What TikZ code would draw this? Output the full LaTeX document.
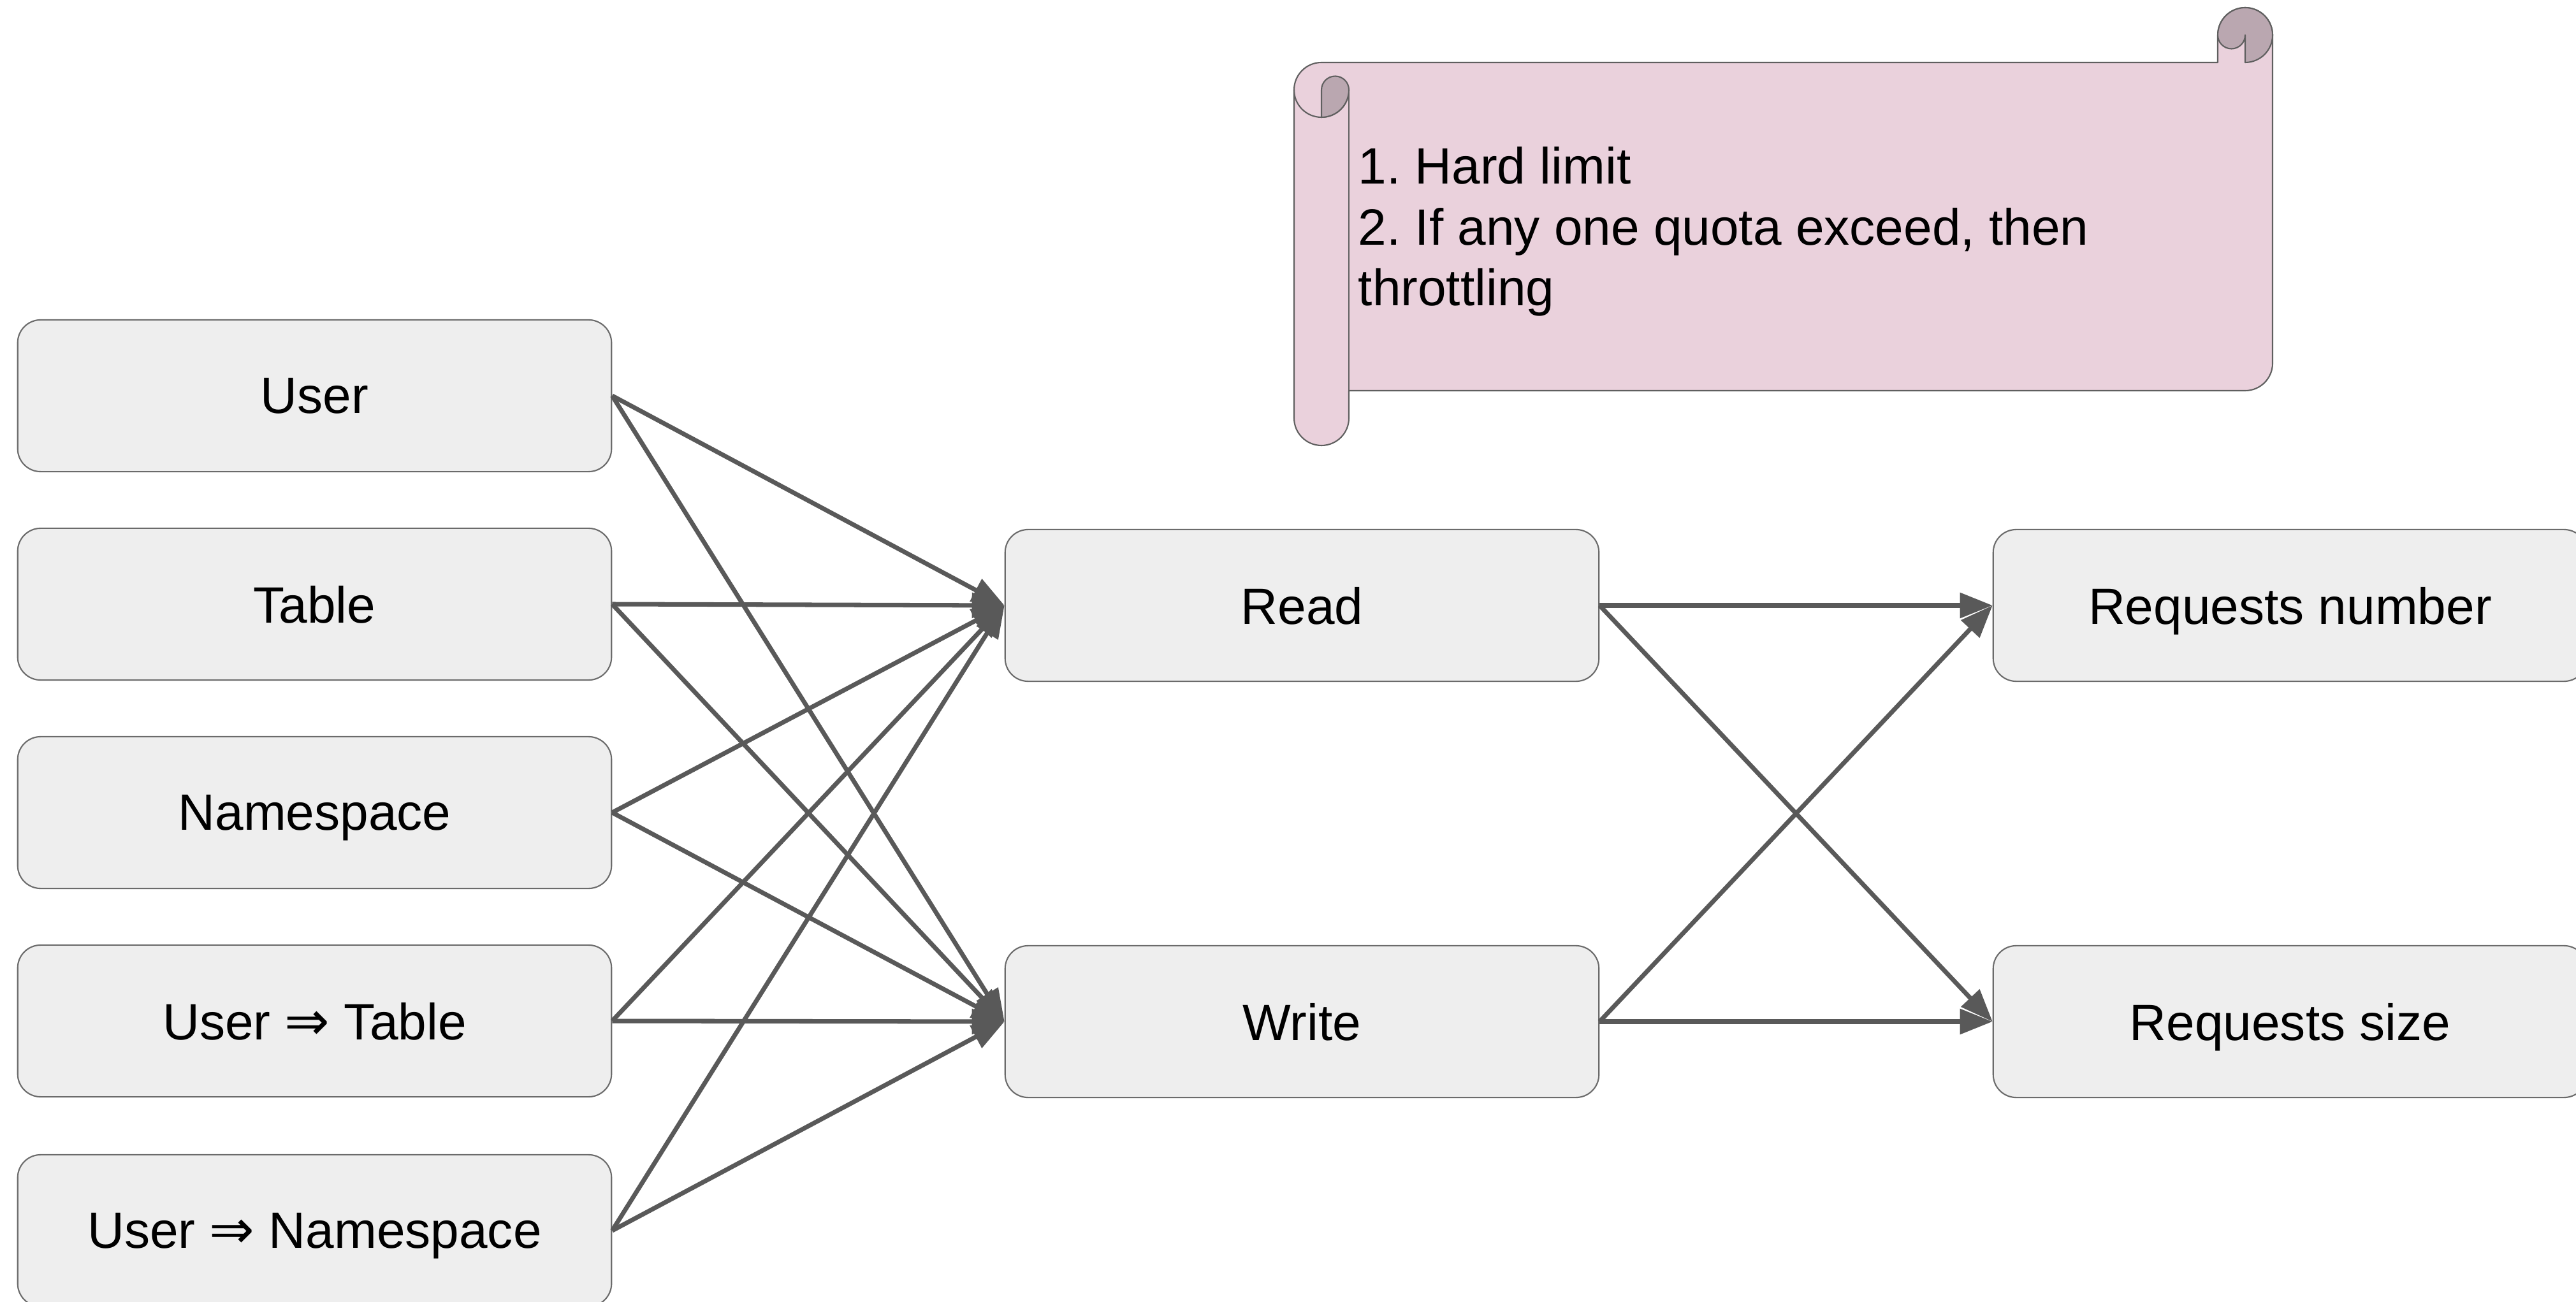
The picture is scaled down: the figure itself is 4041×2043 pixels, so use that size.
\documentclass[tikz,border=0pt]{standalone}
\usepackage{fontspec}
\setmainfont{Liberation Sans}
\newfontfamily\symfont{DejaVu Sans}
\usetikzlibrary{arrows.meta}
\frenchspacing
\definecolor{boxfill}{HTML}{EEEEEE}
\definecolor{boxline}{HTML}{6B6B6B}
\definecolor{arrowgray}{HTML}{595959}
\definecolor{scrollfill}{HTML}{EAD1DC}
\definecolor{scrolldark}{HTML}{BAA7B0}
\definecolor{scrollline}{HTML}{5F5F5F}
\newcommand{\impl}{{\symfont\fontsize{24}{26}\selectfont ⇒}}
\begin{document}
\begin{tikzpicture}[x=0.01cm,y=0.01cm,
  block/.style={draw=boxline, fill=boxfill, line width=0.6pt,
    rounded corners=0.36cm, minimum width=9.31cm, minimum height=2.38cm,
    inner sep=0pt, text depth=0pt, font=\fontsize{22.8}{28}\selectfont},
  arr/.style={draw=arrowgray, line width=2pt,
    -{Triangle[length=14.5pt,width=11pt]}},
  scrollpart/.style={draw=scrollline, line width=0.6pt, line join=round},
  note/.style={anchor=base west, inner sep=0pt, font=\fontsize{22.8}{28}\selectfont}]

% canvas
\fill[white] (0,0) rectangle (4041,-2043);
\useasboundingbox (0,0) rectangle (4041,-2043);

% --- scroll with the note ---
\path[scrollpart, fill=scrollfill]
  (2030,-141) arc[start angle=180, end angle=90, radius=43]
  -- (3479,-98) -- (3479,-55)
  arc[start angle=180, end angle=0, radius=43]
  -- (3565,-570) arc[start angle=0, end angle=-90, radius=43]
  -- (2116,-613) -- (2116,-656)
  arc[start angle=0, end angle=-180, radius=43] -- cycle;
% left roll
\draw[scrollpart] (2030,-141) arc[start angle=180, end angle=360, radius=43];
\path[scrollpart, fill=scrolldark]
  (2073,-141) arc[start angle=180, end angle=0, radius=21.5]
  arc[start angle=0, end angle=-90, radius=43] -- cycle;
\draw[scrollpart] (2116,-141) -- (2116,-613);
% right roll
\path[scrollpart, fill=scrolldark]
  (3479,-55) arc[start angle=180, end angle=-90, radius=43]
  -- (3522,-55) arc[start angle=0, end angle=-180, radius=21.5] -- cycle;

\node[note] (t1) at (2130,-289) {1. Hard limit};
\node[note] (t2) at (2130,-385) {2. If any one quota exceed, then};
\node[note] (t3) at (2130,-480) {throttling};

% --- scopes ---
\node[block] (user)  at (493.5,-621)  {User};
\node[block] (table) at (493.5,-948)  {Table};
\node[block] (ns)    at (493.5,-1275) {Namespace};
\node[block] (ut)    at (493.5,-1602) {User \impl{} Table};
\node[block] (un)    at (493.5,-1931) {User \impl{} Namespace};

% --- operations ---
\node[block] (read)  at (2042.5,-950)  {Read};
\node[block] (write) at (2042.5,-1603) {Write};

% --- quota types ---
\node[block] (rnum)  at (3592.5,-950)  {Requests number};
\node[block] (rsize) at (3592.5,-1603) {Requests size};

% --- connectors ---
\foreach \s in {user,table,ns,ut,un}{
  \draw[arr] (\s.east) -- (read.west);
  \draw[arr] (\s.east) -- (write.west);
}
\foreach \s in {read,write}{
  \draw[arr] (\s.east) -- (rnum.west);
  \draw[arr] (\s.east) -- (rsize.west);
}
\end{tikzpicture}
\end{document}
